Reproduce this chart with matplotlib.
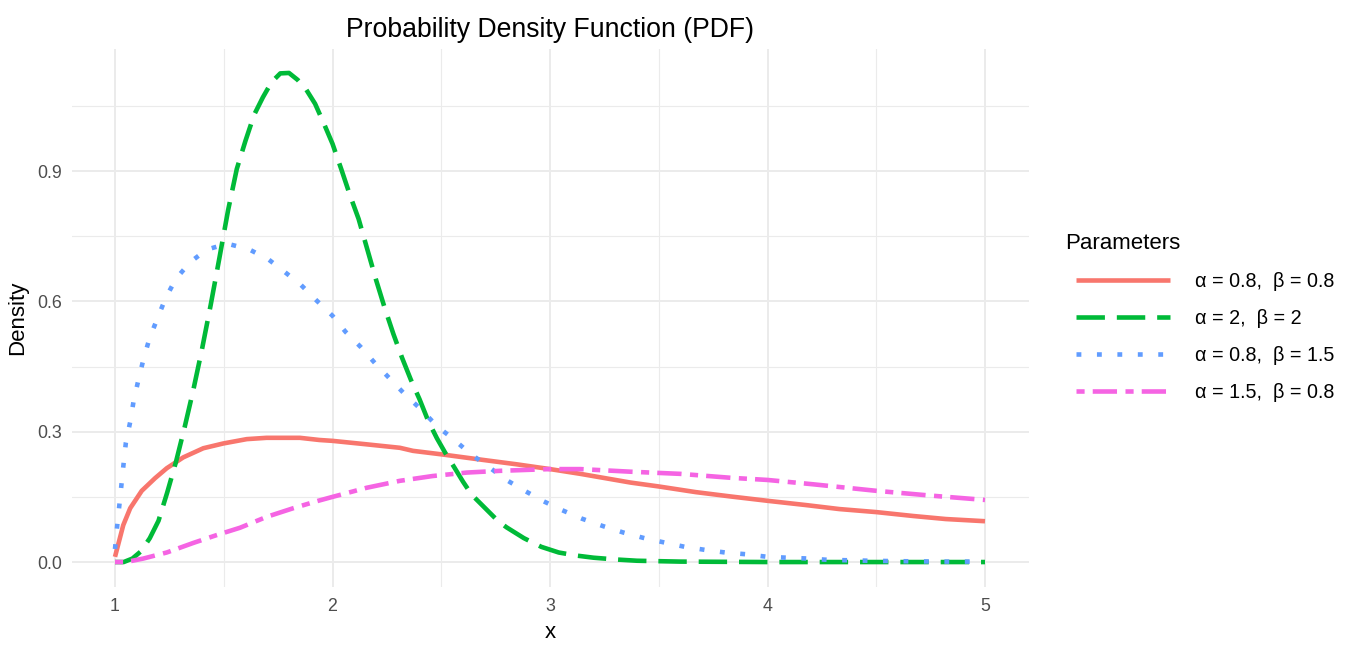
import matplotlib
matplotlib.use("Agg")
import matplotlib.pyplot as plt
from matplotlib.ticker import MultipleLocator, AutoMinorLocator, FormatStrFormatter

plt.rcParams["font.family"] = ["Liberation Sans", "DejaVu Sans"]

# ---- data -------------------------------------------------------------
x_a08_b08 = [1.0, 1.038, 1.07, 1.123, 1.184, 1.238, 1.314, 1.406, 1.498, 1.606,
             1.697, 1.85, 1.94, 2.0, 2.157, 2.31, 2.37, 2.5, 2.694, 2.847, 3.0,
             3.14, 3.37, 3.5, 3.67, 3.83, 4.0, 4.18, 4.33, 4.5, 4.67, 4.82, 5.0]
y_a08_b08 = [0.012, 0.085, 0.124, 0.164, 0.193, 0.216, 0.241, 0.262, 0.273, 0.283,
             0.286, 0.286, 0.281, 0.279, 0.271, 0.263, 0.256, 0.248, 0.235, 0.225, 0.214,
             0.203, 0.183, 0.174, 0.161, 0.151, 0.141, 0.131, 0.122, 0.115, 0.106, 0.099, 0.094]

x_a2_b2 = [1.0, 1.04, 1.08, 1.12, 1.16, 1.2, 1.24, 1.28, 1.32, 1.36, 1.4, 1.44,
           1.48, 1.52, 1.56, 1.6, 1.64, 1.68, 1.72, 1.76, 1.8, 1.84, 1.88, 1.92,
           1.96, 2.0, 2.04, 2.08, 2.12, 2.16, 2.2, 2.24, 2.28, 2.32, 2.36, 2.4,
           2.44, 2.48, 2.52, 2.56, 2.6, 2.64, 2.68, 2.72, 2.76, 2.8, 2.88, 2.96,
           3.04, 3.12, 3.2, 3.3, 3.4, 3.6, 4.0, 5.0]
y_a2_b2 = [0.0, 0.0, 0.008, 0.025, 0.055, 0.095, 0.16, 0.23, 0.31, 0.396, 0.49, 0.592,
           0.70, 0.81, 0.905, 0.97, 1.03, 1.07, 1.105, 1.125, 1.126, 1.11, 1.087, 1.055,
           1.01, 0.963, 0.905, 0.845, 0.79, 0.72, 0.65, 0.585, 0.525, 0.47, 0.42, 0.375,
           0.325, 0.285, 0.25, 0.218, 0.185, 0.155, 0.135, 0.115, 0.095, 0.08, 0.055, 0.035,
           0.022, 0.015, 0.010, 0.006, 0.003, 0.001, 0.0, 0.0]

x_a08_b15 = [1.0, 1.01, 1.02, 1.03, 1.04, 1.05, 1.07, 1.085, 1.107, 1.13, 1.158,
             1.195, 1.233, 1.28, 1.345, 1.42, 1.516, 1.616, 1.705, 1.78, 1.855,
             1.927, 2.0, 2.06, 2.13, 2.195, 2.264, 2.333, 2.41, 2.48, 2.556, 2.632,
             2.713, 2.796, 2.877, 2.966, 3.053, 3.146, 3.242, 3.337, 3.434, 3.526,
             3.62, 3.713, 3.805, 3.9, 4.0, 4.09, 4.19, 4.28, 4.38, 4.47, 4.6, 4.8, 5.0]
y_a08_b15 = [0.03, 0.083, 0.131, 0.18, 0.229, 0.275, 0.323, 0.369, 0.418, 0.465, 0.514,
             0.561, 0.608, 0.652, 0.69, 0.719, 0.733, 0.72, 0.697, 0.668, 0.638,
             0.602, 0.567, 0.53, 0.495, 0.458, 0.422, 0.386, 0.35, 0.313, 0.283, 0.25,
             0.221, 0.19, 0.166, 0.141, 0.12, 0.10, 0.083, 0.068, 0.055, 0.045,
             0.035, 0.028, 0.022, 0.018, 0.012, 0.010, 0.008, 0.005, 0.004, 0.003, 0.002, 0.001, 0.001]

x_a15_b08 = [1.0, 1.05, 1.13, 1.238, 1.36, 1.467, 1.575, 1.697, 1.82, 1.927, 2.0,
             2.157, 2.31, 2.46, 2.617, 2.77, 3.0, 3.14, 3.37, 3.6, 3.83, 4.0, 4.21,
             4.5, 4.75, 5.0]
y_a15_b08 = [0.0, 0.0, 0.008, 0.022, 0.044, 0.062, 0.079, 0.104, 0.124, 0.14, 0.15,
             0.171, 0.187, 0.198, 0.206, 0.21, 0.214, 0.214, 0.208, 0.203, 0.194, 0.189, 0.179,
             0.164, 0.153, 0.143]

labels = ["α = 0.8,  β = 0.8", "α = 2,  β = 2", "α = 0.8,  β = 1.5", "α = 1.5,  β = 0.8"]
colors = ["#F8766D", "#00BA38", "#619CFF", "#F564E3"]
styles = ["-", (0, (6.2, 2.6)), (0, (1.06, 3.4)), (0, (1.77, 1.77, 5.3, 1.85))]

series = [(x_a08_b08, y_a08_b08), (x_a2_b2, y_a2_b2),
          (x_a08_b15, y_a08_b15), (x_a15_b08, y_a15_b08)]

# ---- figure -----------------------------------------------------------
W, H = 1350, 646
fig = plt.figure(figsize=(W / 100, H / 100), dpi=100)
ax = fig.add_axes([71.5 / W, 1 - 586.5 / H, 957 / W, 538 / H])

lw = 3.3
handles = []
for (xs, ys), lab, col, ls in zip(series, labels, colors, styles):
    ln, = ax.plot(xs, ys, color=col, linestyle=ls, linewidth=lw,
                  dash_capstyle="butt", solid_capstyle="butt", label=lab)
    handles.append(ln)

ax.margins(x=0.05, y=0.05)

ax.xaxis.set_major_locator(MultipleLocator(1))
ax.xaxis.set_minor_locator(AutoMinorLocator(2))
ax.yaxis.set_major_locator(MultipleLocator(0.3))
ax.yaxis.set_minor_locator(AutoMinorLocator(2))
ax.yaxis.set_major_formatter(FormatStrFormatter("%.1f"))

ax.grid(which="major", color="#EBEBEB", linewidth=1.4)
ax.grid(which="minor", color="#EBEBEB", linewidth=0.8)
ax.set_axisbelow(True)
for sp in ax.spines.values():
    sp.set_visible(False)
ax.tick_params(which="both", length=0)
ax.tick_params(axis="x", pad=8, labelsize=12.8, labelcolor="#4D4D4D")
ax.tick_params(axis="y", pad=7, labelsize=12.8, labelcolor="#4D4D4D")

ax.set_xlabel("x", fontsize=16, color="black", labelpad=5)
ax.set_ylabel("Density", fontsize=16, color="black", labelpad=6)
ax.set_title("Probability Density Function (PDF)", fontsize=19.2, pad=8)

# legend: title set slightly left of the keys
fig.text(1065 / W, 1 - 244 / H, "Parameters", fontsize=16,
         ha="left", va="center", color="black")
leg = ax.legend(handles=handles, loc="center left",
                bbox_to_anchor=(1060 / W, 1 - 337 / H),
                bbox_transform=fig.transFigure, frameon=False,
                fontsize=14.2, handlelength=4.77,
                handletextpad=1.25, labelspacing=0.9,
                borderpad=0.3)

fig.savefig("out.png", dpi=100, facecolor="white")
